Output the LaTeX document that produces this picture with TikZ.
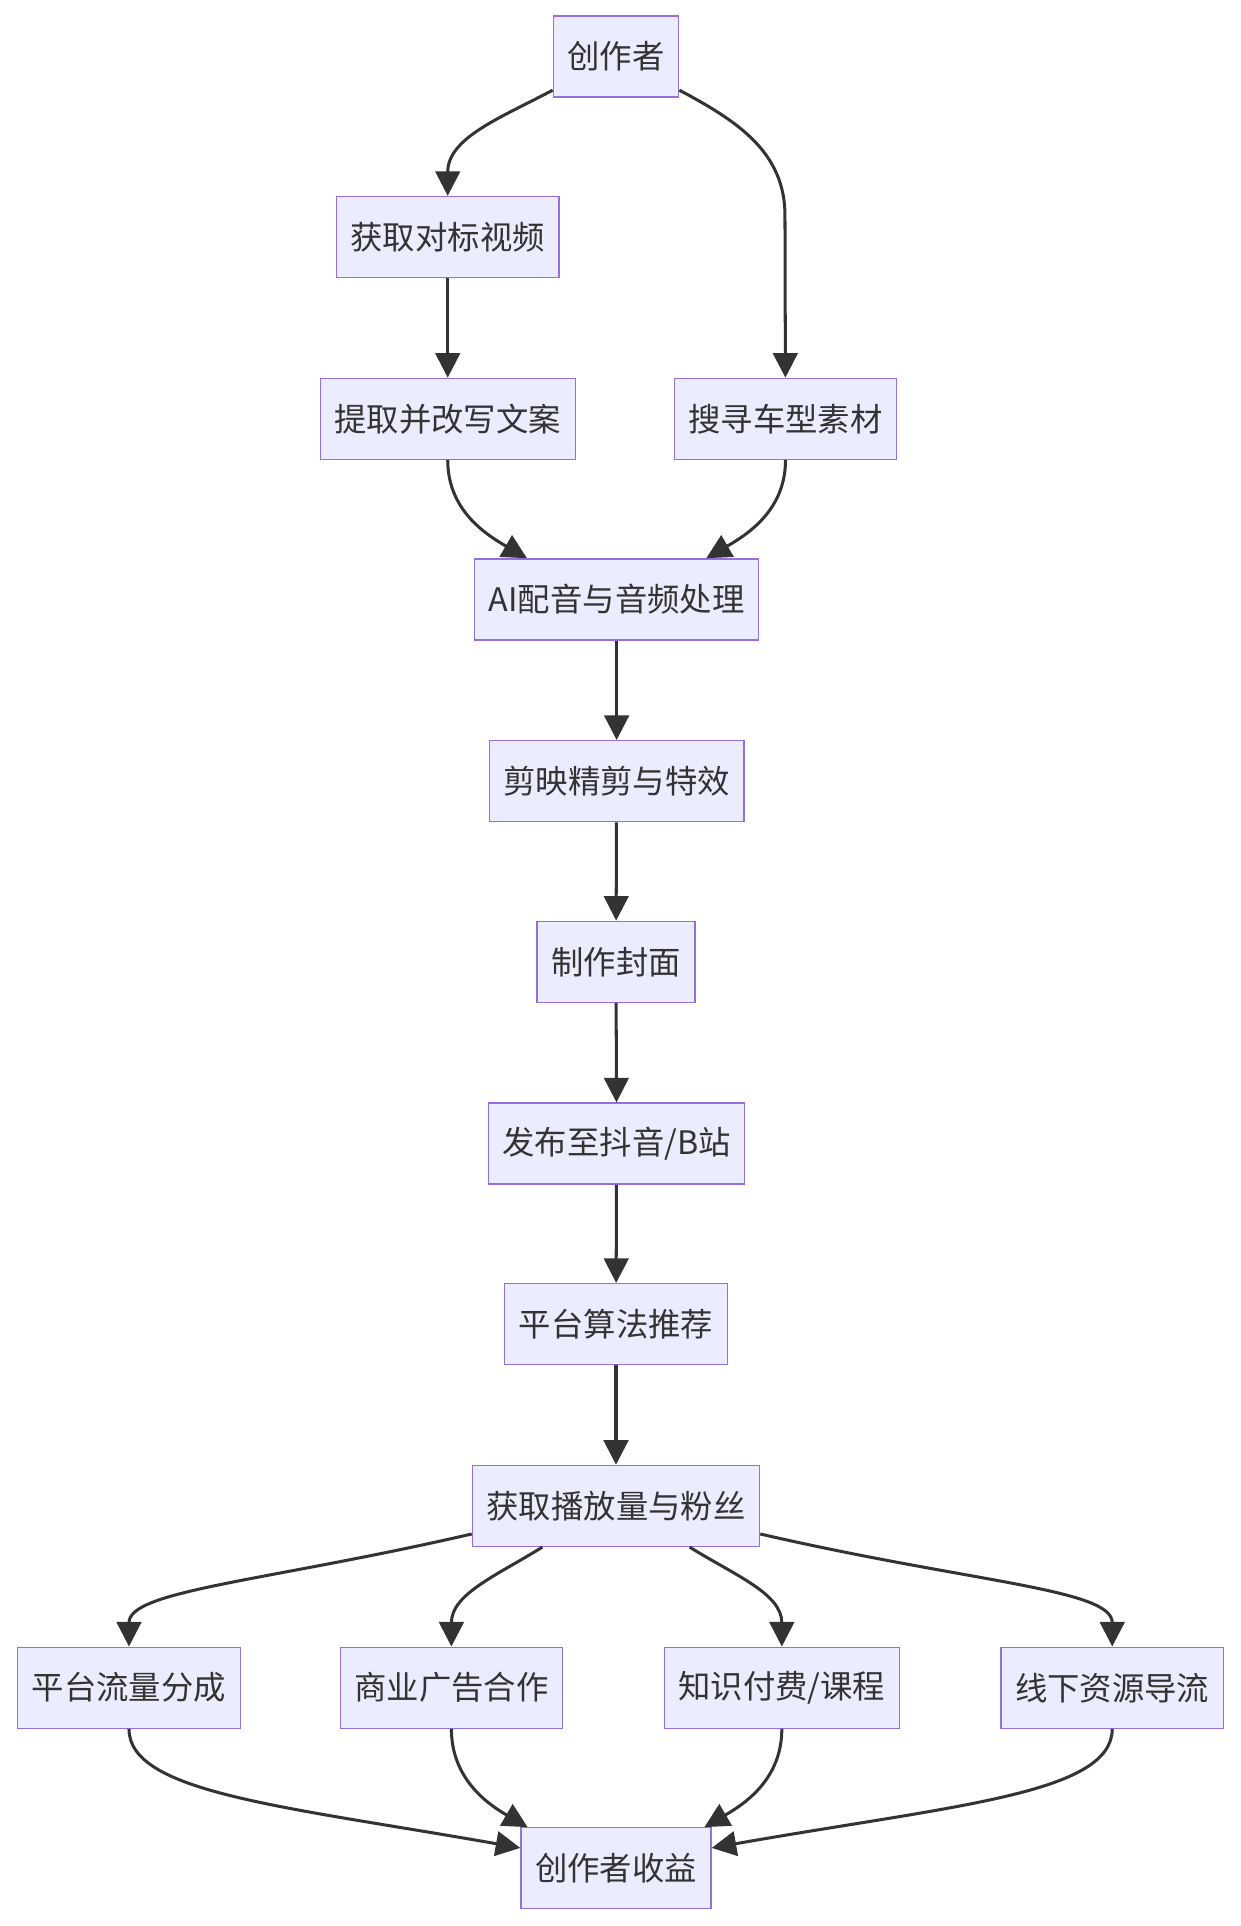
\documentclass[tikz,border=0pt]{standalone}
\usepackage{fontspec}
\newfontfamily\cjkfont{Noto Sans CJK SC}
\usetikzlibrary{arrows.meta}
\definecolor{nodefill}{HTML}{ECECFF}
\definecolor{nodeedge}{HTML}{9370DB}
\definecolor{ink}{HTML}{333333}

\begin{document}
\begin{tikzpicture}[
  x=0.02cm,y=0.02cm,
  font=\cjkfont\fontsize{15pt}{18pt}\selectfont,
  >={Triangle[length=0.4cm,width=0.4cm]},
  box/.style={draw=nodeedge,fill=nodefill,line width=0.6pt,text=ink,minimum height=1.32cm,inner xsep=0.23cm},
  line/.style={->,draw=ink,line width=1.4pt}
]
\useasboundingbox (0,0) rectangle (1010,-1568);

% Preparing the material.
\node[box] (author) at (501.5,-46) {创作者};
\node[box] (fetch) at (364.5,-193) {获取对标视频};
\node[box] (rewrite) at (364.5,-341) {提取并改写文案};
\node[box] (search) at (639.5,-341) {搜寻车型素材};
\node[box] (dub) at (502,-488) {AI配音与音频处理};
\draw[line] (author.208) to[out=-152,in=90] (fetch);
\draw[line] (author.-28) to[out=-28,in=90] ++(86,-102) -- (search);
\draw[line] (fetch) -- (rewrite);
\draw[line] (rewrite) to[out=-90,in=150] ([xshift=-1.46cm]dub.north);
\draw[line] (search) to[out=-90,in=30] ([xshift=1.46cm]dub.north);

% Production and publishing, one step per rank.
\node[box] (edit) at (502,-636) {剪映精剪与特效};
\node[box] (cover) at (501.5,-783) {制作封面};
\node[box] (publish) at (502,-931) {发布至抖音/B站};
\node[box] (algo) at (501.5,-1078) {平台算法推荐};
\node[box] (gain) at (501.5,-1226) {获取播放量与粉丝};
\foreach \a/\b in {dub/edit,edit/cover,cover/publish,publish/algo,algo/gain}
  \draw[line] (\a) -- (\b);

% Income streams.
\node[box] (split) at (105,-1374) {平台流量分成};
\node[box] (ads) at (367.5,-1374) {商业广告合作};
\node[box] (course) at (636.5,-1374) {知识付费/课程};
\node[box] (offline) at (905.5,-1374) {线下资源导流};
\node[box] (revenue) at (501.5,-1521) {创作者收益};
\draw[line] (gain.191) to[out=193,in=90,out looseness=1.5,in looseness=0.4] (split);
\draw[line] ([xshift=-1.2cm]gain.south) to[out=-148,in=90] (ads);
\draw[line] ([xshift=1.2cm]gain.south) to[out=-32,in=90] (course);
\draw[line] (gain.-11) to[out=-13,in=90,out looseness=1.5,in looseness=0.4] (offline);
\draw[line] (split) to[out=-90,in=170,out looseness=0.4,in looseness=1.5] (revenue.168);
\draw[line] (ads) to[out=-90,in=150] ([xshift=-1.44cm]revenue.north);
\draw[line] (course) to[out=-90,in=30] ([xshift=1.44cm]revenue.north);
\draw[line] (offline) to[out=-90,in=10,out looseness=0.4,in looseness=1.5] (revenue.12);
\end{tikzpicture}
\end{document}
